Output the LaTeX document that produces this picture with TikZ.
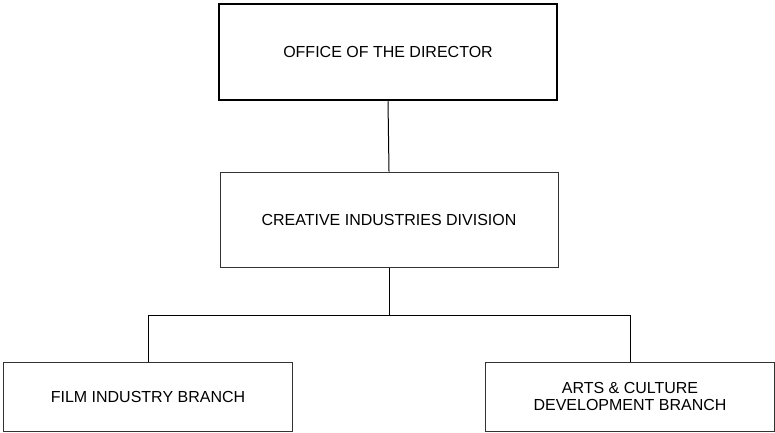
\documentclass[tikz,border=0pt]{standalone}
\usepackage{fontspec}
\setmainfont{Liberation Sans}
\usepackage{tikz}
\tikzset{
    node distance=167.5pt, % vertical gap between the levels of the chart
    }

\begin{document}
\begin{tikzpicture}[
headnode/.style={rectangle, draw=black, line width=2.5pt, minimum width=338pt, minimum height=96pt, font=\fontsize{16pt}{17pt}\selectfont},
divnode/.style={rectangle, draw=black!80, line width=1pt, minimum width=338pt, minimum height=95pt, font=\fontsize{16pt}{17pt}\selectfont},
branchnode/.style={rectangle, draw=black!80, line width=1pt, minimum width=289pt, minimum height=69pt, align=center, font=\fontsize{16pt}{17pt}\selectfont},
]
\useasboundingbox (0,0) rectangle (775pt,-432pt);
\node[headnode] (director) at (388pt,-52pt) {OFFICE OF THE DIRECTOR};
\node[divnode] (division) [below of=director, xshift=1pt] {CREATIVE INDUSTRIES DIVISION};
\node[branchnode] (film) [below of=division, node distance=177pt, xshift=-241pt] {FILM INDUSTRY BRANCH};
\node[branchnode] (arts) [below of=division, node distance=177pt, xshift=241pt] {ARTS \& CULTURE\\DEVELOPMENT BRANCH};
\coordinate (split) at ([yshift=-48pt]division.south);

\draw[line width=1pt,-] (director.south) -- (division.north);
\draw[line width=1pt,-] (division.south) -- (split);
\draw[line width=1pt,-] (split) -| (film.north);
\draw[line width=1pt,-] (split) -| (arts.north);
\end{tikzpicture}
\end{document}
